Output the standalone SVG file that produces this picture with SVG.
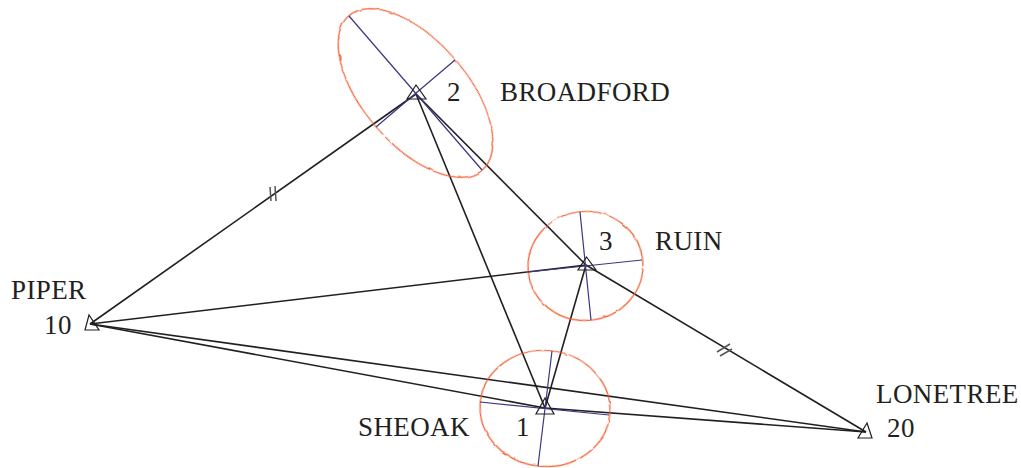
<svg xmlns="http://www.w3.org/2000/svg" width="1021" height="468" viewBox="0 0 1021 468">
<defs>
<filter id="wob" filterUnits="userSpaceOnUse" x="0" y="0" width="1021" height="468" color-interpolation-filters="sRGB">
<feTurbulence type="fractalNoise" baseFrequency="0.09" numOctaves="2" seed="4" result="n"/>
<feDisplacementMap in="SourceGraphic" in2="n" scale="2.4" xChannelSelector="R" yChannelSelector="G"/>
</filter>
</defs>
<style>
text{font-family:"Liberation Serif","Times New Roman",serif;font-size:27px;letter-spacing:.4px;fill:#231f20}
.e{fill:none;stroke:#f0592a;stroke-width:1.2;filter:url(#wob)}
.a{stroke:#3d3585;stroke-width:1.2;fill:none}
.t{fill:none;stroke:#231f20;stroke-width:1.2}
.c line{stroke:#231f20;stroke-width:1.6}
.c line.k{stroke-width:1.5;stroke:#555}
</style>
<rect width="1021" height="468" fill="#fff"/>
<g id="connectors" class="c">
<line x1="90" y1="324" x2="416" y2="94"/>
<line x1="90" y1="324" x2="586" y2="265"/>
<line x1="90" y1="324" x2="545" y2="408"/>
<line x1="90" y1="324" x2="866" y2="432"/>
<line x1="416" y1="94" x2="545" y2="408"/>
<line x1="416" y1="94" x2="586" y2="265"/>
<line x1="586" y1="265" x2="866" y2="432"/>
<line x1="545" y1="408" x2="586" y2="265"/>
<line x1="545" y1="408" x2="866" y2="432"/>
<line class="k" x1="270" y1="187" x2="271" y2="201"/>
<line class="k" x1="275" y1="186" x2="276" y2="201"/>
<line class="k" x1="717" y1="352" x2="730" y2="344"/>
<line class="k" x1="720" y1="356" x2="732" y2="349"/>
</g>
<g id="node-2">
<ellipse class="e" cx="415.5" cy="93" rx="102" ry="52" transform="rotate(49.2 415.5 93)"/>
<path class="a" d="M349 16L482 170M455 60L376 127"/>
<path class="t" d="M416 85L407 99H426Z"/>
<text x="447" y="101">2</text>
<text x="500" y="101">BROADFORD</text>
</g>
<g id="node-3">
<ellipse class="e" cx="585.5" cy="266" rx="57.5" ry="54.5" transform="rotate(-6 585.5 266)"/>
<path class="a" d="M580 212L591 320M528 272L642 260"/>
<path class="t" d="M586.500 257L578 270H596Z"/>
<text x="599" y="250">3</text>
<text x="655" y="250">RUIN</text>
</g>
<g id="node-1">
<ellipse class="e" cx="545" cy="408.500" rx="65" ry="58" transform="rotate(5.700 545 408.500)"/>
<path class="a" d="M552 351L538 466M480 402L609 415"/>
<path class="t" d="M545 398L536 414H554Z"/>
<text x="516" y="436">1</text>
<text x="358" y="436">SHEOAK</text>
</g>
<g id="node-10">
<path class="t" d="M89 315L85 330H99Z"/>
<text x="44" y="334">10</text>
<text x="11" y="299">PIPER</text>
</g>
<g id="node-20">
<path class="t" d="M867 423L858 438H872Z"/>
<text x="887" y="437">20</text>
<text x="876" y="403">LONETREE</text>
</g>
</svg>
